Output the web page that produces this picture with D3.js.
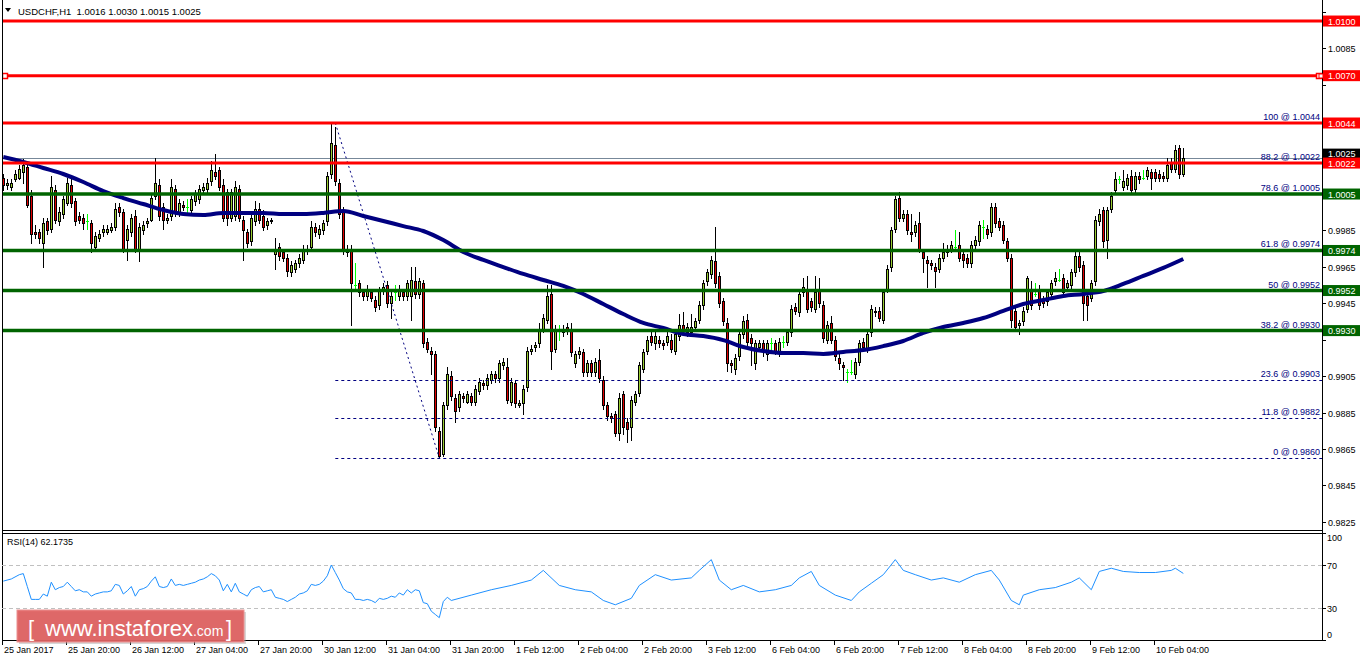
<!DOCTYPE html>
<html><head><meta charset="utf-8">
<script src="https://cdn.jsdelivr.net/npm/d3@7"></script>
<style>
html,body{margin:0;padding:0;background:#fff;}
svg{display:block;font-family:"Liberation Sans",Arial,sans-serif;}
</style></head><body>
<svg id="c" width="1362" height="661"></svg>
<script>
const titleText = "USDCHF,H1  1.0016 1.0030 1.0015 1.0025";
const rsiTitle = "RSI(14) 62.1735";

const opens = [1.0014,1.0010,1.0009,1.0013,1.0014,1.0017,1.0020,1.0004,0.9984,0.9984,
0.9978,0.9990,0.9986,1.0007,0.9990,0.9994,1.0000,1.0010,1.0001,0.9993,
0.9992,0.9990,0.9989,0.9976,0.9981,0.9984,0.9984,0.9985,0.9987,0.9998,
0.9995,0.9980,0.9984,0.9993,0.9975,0.9985,0.9989,0.9991,1.0004,1.0010,
0.9998,0.9991,0.9993,1.0008,0.9995,0.9999,0.9998,0.9996,1.0001,1.0002,
1.0007,1.0008,1.0012,1.0017,1.0018,1.0010,1.0006,0.9992,0.9993,1.0008,
0.9991,0.9984,0.9979,0.9990,0.9997,0.9993,0.9988,0.9991,0.9972,0.9976,
0.9973,0.9970,0.9962,0.9964,0.9967,0.9969,0.9974,0.9976,0.9987,0.9983,
0.9985,0.9990,1.0016,1.0032,1.0011,0.9996,0.9973,0.9975,0.9955,0.9956,
0.9951,0.9949,0.9951,0.9947,0.9944,0.9952,0.9955,0.9945,0.9951,0.9949,
0.9951,0.9949,0.9949,0.9957,0.9950,0.9956,0.9924,0.9919,0.9917,0.9875,
0.9862,0.9889,0.9905,0.9893,0.9888,0.9894,0.9891,0.9894,0.9891,0.9897,
0.9901,0.9900,0.9903,0.9906,0.9904,0.9911,0.9910,0.9891,0.9901,0.9889,
0.9890,0.9899,0.9919,0.9921,0.9923,0.9931,0.9936,0.9950,0.9920,0.9930,
0.9929,0.9932,0.9930,0.9912,0.9917,0.9918,0.9907,0.9912,0.9907,0.9914,
0.9903,0.9889,0.9883,0.9884,0.9874,0.9895,0.9880,0.9877,0.9891,0.9896,
0.9909,0.9919,0.9927,0.9923,0.9925,0.9923,0.9924,0.9925,0.9919,0.9927,
0.9933,0.9929,0.9929,0.9932,0.9936,0.9944,0.9957,0.9961,0.9968,0.9960,
0.9946,0.9934,0.9912,0.9909,0.9916,0.9928,0.9936,0.9926,0.9912,0.9921,
0.9923,0.9917,0.9923,0.9923,0.9918,0.9924,0.9924,0.9929,0.9943,0.9940,
0.9951,0.9953,0.9946,0.9942,0.9953,0.9944,0.9925,0.9934,0.9925,0.9915,
0.9911,0.9907,0.9907,0.9906,0.9913,0.9924,0.9920,0.9929,0.9941,0.9941,
0.9936,0.9953,0.9965,0.9986,1.0003,0.9992,0.9994,0.9984,0.9984,0.9989,
0.9973,0.9969,0.9967,0.9965,0.9964,0.9970,0.9973,0.9975,0.9976,0.9977,
0.9972,0.9970,0.9967,0.9977,0.9979,0.9987,0.9986,0.9984,0.9998,0.9990,
0.9988,0.9979,0.9970,0.9941,0.9933,0.9935,0.9942,0.9953,0.9950,0.9953,
0.9947,0.9946,0.9950,0.9957,0.9958,0.9959,0.9954,0.9955,0.9962,0.9971,
0.9966,0.9949,0.9948,0.9957,0.9990,0.9996,0.9980,0.9997,1.0007,1.0013,
1.0009,1.0010,1.0015,1.0008,1.0015,1.0014,1.0015,1.0017,1.0017,1.0016,
1.0015,1.0014,1.0022,1.0019,1.0030,1.0016];

const highs = [1.0016,1.0013,1.0013,1.0018,1.0021,1.0024,1.0022,1.0007,0.9988,0.9986,
0.9992,0.9992,1.0015,1.0010,0.9998,1.0004,1.0014,1.0013,1.0003,0.9995,
0.9994,0.9994,0.9991,0.9984,0.9985,0.9988,0.9988,0.9989,1.0000,1.0000,
0.9997,0.9988,0.9994,0.9996,0.9989,0.9990,0.9992,1.0005,1.0025,1.0013,
1.0000,0.9994,1.0013,1.0010,1.0002,1.0001,1.0002,1.0004,1.0007,1.0010,
1.0011,1.0014,1.0023,1.0027,1.0020,1.0013,1.0008,1.0008,1.0012,1.0010,
0.9993,0.9986,0.9995,1.0001,1.0000,0.9996,0.9992,0.9992,0.9981,0.9978,
0.9975,0.9972,0.9968,0.9969,0.9972,0.9977,0.9977,0.9990,0.9989,0.9988,
0.9991,1.0017,1.0044,1.0042,1.0013,0.9998,0.9977,0.9977,0.9967,0.9958,
0.9953,0.9955,0.9953,0.9949,0.9954,0.9956,0.9957,0.9951,0.9955,0.9955,
0.9953,0.9958,0.9965,0.9965,0.9959,0.9958,0.9926,0.9921,0.9919,0.9877,
0.9891,0.9910,0.9908,0.9895,0.9897,0.9896,0.9897,0.9896,0.9900,0.9904,
0.9903,0.9906,0.9908,0.9908,0.9914,0.9915,0.9915,0.9904,0.9903,0.9892,
0.9900,0.9921,0.9922,0.9924,0.9934,0.9939,0.9955,0.9955,0.9933,0.9933,
0.9933,0.9934,0.9934,0.9919,0.9921,0.9920,0.9914,0.9914,0.9915,0.9920,
0.9905,0.9891,0.9885,0.9886,0.9896,0.9897,0.9882,0.9894,0.9897,0.9913,
0.9920,0.9927,0.9929,0.9929,0.9927,0.9925,0.9929,0.9928,0.9930,0.9939,
0.9940,0.9934,0.9939,0.9937,0.9946,0.9958,0.9964,0.9971,0.9987,0.9962,
0.9948,0.9937,0.9914,0.9917,0.9930,0.9938,0.9939,0.9928,0.9925,0.9925,
0.9925,0.9925,0.9926,0.9925,0.9926,0.9927,0.9931,0.9944,0.9945,0.9952,
0.9959,0.9960,0.9948,0.9960,0.9959,0.9946,0.9935,0.9938,0.9927,0.9917,
0.9913,0.9909,0.9914,0.9915,0.9925,0.9926,0.9930,0.9944,0.9943,0.9943,
0.9953,0.9966,0.9987,1.0004,1.0006,0.9996,0.9996,0.9994,0.9990,0.9995,
0.9975,0.9971,0.9969,0.9967,0.9972,0.9978,0.9977,0.9979,0.9985,0.9984,
0.9974,0.9972,0.9979,0.9982,0.9990,0.9991,0.9988,1.0000,1.0000,0.9992,
0.9990,0.9981,0.9972,0.9943,0.9936,0.9943,0.9960,0.9957,0.9956,0.9955,
0.9949,0.9953,0.9958,0.9962,0.9964,0.9961,0.9958,0.9964,0.9973,0.9973,
0.9968,0.9951,0.9958,0.9993,0.9997,0.9998,0.9998,1.0006,1.0017,1.0015,
1.0018,1.0016,1.0018,1.0017,1.0017,1.0018,1.0020,1.0019,1.0019,1.0018,
1.0017,1.0025,1.0025,1.0032,1.0032,1.0030];

const lows = [1.0007,1.0008,1.0007,1.0012,1.0013,1.0011,0.9998,0.9978,0.9981,0.9978,
0.9965,0.9983,0.9984,0.9989,0.9988,0.9992,0.9999,0.9998,0.9988,0.9989,
0.9986,0.9986,0.9973,0.9975,0.9979,0.9982,0.9983,0.9984,0.9985,0.9993,
0.9973,0.9969,0.9982,0.9973,0.9968,0.9983,0.9987,0.9990,1.0002,0.9991,
0.9986,0.9989,0.9991,0.9993,0.9993,0.9996,0.9995,0.9994,0.9999,1.0000,
1.0005,1.0006,1.0010,1.0013,1.0007,0.9990,0.9988,0.9990,0.9991,0.9990,
0.9969,0.9976,0.9977,0.9988,0.9989,0.9985,0.9986,0.9989,0.9964,0.9969,
0.9968,0.9960,0.9960,0.9962,0.9965,0.9967,0.9972,0.9974,0.9982,0.9981,
0.9983,0.9988,1.0014,1.0010,0.9992,0.9972,0.9971,0.9933,0.9953,0.9949,
0.9947,0.9947,0.9946,0.9941,0.9942,0.9950,0.9943,0.9937,0.9947,0.9947,
0.9947,0.9947,0.9936,0.9948,0.9948,0.9921,0.9918,0.9906,0.9875,0.9860,
0.9861,0.9887,0.9892,0.9880,0.9886,0.9891,0.9890,0.9889,0.9889,0.9895,
0.9898,0.9898,0.9901,0.9902,0.9902,0.9909,0.9890,0.9889,0.9888,0.9888,
0.9884,0.9897,0.9917,0.9919,0.9921,0.9929,0.9934,0.9909,0.9918,0.9925,
0.9927,0.9928,0.9916,0.9910,0.9915,0.9905,0.9905,0.9905,0.9905,0.9902,
0.9887,0.9881,0.9880,0.9872,0.9870,0.9873,0.9869,0.9870,0.9889,0.9894,
0.9907,0.9917,0.9922,0.9920,0.9921,0.9920,0.9922,0.9918,0.9917,0.9925,
0.9928,0.9927,0.9927,0.9930,0.9934,0.9942,0.9955,0.9959,0.9954,0.9943,
0.9933,0.9908,0.9907,0.9906,0.9914,0.9926,0.9922,0.9911,0.9909,0.9919,
0.9916,0.9914,0.9920,0.9917,0.9916,0.9921,0.9922,0.9927,0.9939,0.9938,
0.9949,0.9940,0.9941,0.9940,0.9943,0.9924,0.9923,0.9923,0.9914,0.9909,
0.9903,0.9902,0.9906,0.9904,0.9911,0.9919,0.9918,0.9927,0.9938,0.9935,
0.9934,0.9951,0.9963,0.9984,0.9990,0.9990,0.9983,0.9979,0.9982,0.9973,
0.9962,0.9954,0.9964,0.9954,0.9962,0.9968,0.9971,0.9973,0.9975,0.9968,
0.9965,0.9965,0.9965,0.9975,0.9977,0.9981,0.9981,0.9982,0.9987,0.9985,
0.9978,0.9968,0.9932,0.9930,0.9928,0.9933,0.9940,0.9942,0.9949,0.9942,
0.9943,0.9944,0.9948,0.9955,0.9957,0.9949,0.9952,0.9953,0.9960,0.9963,
0.9936,0.9936,0.9946,0.9955,0.9988,0.9976,0.9970,0.9995,1.0005,1.0011,
1.0007,1.0008,1.0005,1.0006,1.0011,1.0013,1.0013,1.0008,1.0012,1.0012,
1.0012,1.0012,1.0017,1.0017,1.0014,1.0015];

const closes = [1.0010,1.0011,1.0011,1.0016,1.0019,1.0021,0.9999,0.9983,0.9983,0.9981,
0.9989,0.9985,1.0009,0.9991,0.9995,1.0002,1.0011,1.0000,0.9990,0.9991,
0.9989,0.9990,0.9978,0.9982,0.9983,0.9986,0.9986,0.9987,0.9997,0.9995,
0.9974,0.9986,0.9992,0.9975,0.9987,0.9988,0.9990,1.0003,1.0011,0.9993,
0.9991,0.9992,1.0009,0.9995,1.0000,0.9998,0.9998,1.0002,1.0005,1.0008,
1.0009,1.0011,1.0018,1.0015,1.0009,0.9992,0.9992,1.0006,1.0009,0.9992,
0.9985,0.9978,0.9992,0.9997,0.9991,0.9987,0.9990,0.9990,0.9975,0.9971,
0.9970,0.9963,0.9966,0.9967,0.9970,0.9975,0.9975,0.9987,0.9984,0.9986,
0.9989,1.0015,1.0033,1.0012,0.9994,0.9974,0.9975,0.9956,0.9955,0.9951,
0.9949,0.9953,0.9948,0.9943,0.9952,0.9954,0.9945,0.9949,0.9951,0.9953,
0.9949,0.9956,0.9958,0.9950,0.9957,0.9923,0.9920,0.9917,0.9877,0.9861,
0.9889,0.9906,0.9894,0.9886,0.9895,0.9893,0.9895,0.9891,0.9898,0.9902,
0.9900,0.9904,0.9906,0.9904,0.9912,0.9913,0.9892,0.9902,0.9890,0.9890,
0.9898,0.9919,0.9920,0.9922,0.9931,0.9937,0.9949,0.9919,0.9931,0.9930,
0.9931,0.9930,0.9918,0.9917,0.9919,0.9907,0.9912,0.9907,0.9913,0.9904,
0.9889,0.9883,0.9882,0.9874,0.9893,0.9877,0.9876,0.9892,0.9895,0.9911,
0.9918,0.9925,0.9924,0.9927,0.9923,0.9922,0.9927,0.9920,0.9928,0.9933,
0.9930,0.9932,0.9932,0.9935,0.9944,0.9956,0.9962,0.9969,0.9956,0.9945,
0.9935,0.9912,0.9911,0.9915,0.9928,0.9935,0.9924,0.9923,0.9923,0.9923,
0.9919,0.9923,0.9923,0.9919,0.9924,0.9924,0.9929,0.9942,0.9941,0.9950,
0.9954,0.9942,0.9943,0.9951,0.9945,0.9926,0.9933,0.9925,0.9916,0.9912,
0.9910,0.9907,0.9907,0.9913,0.9923,0.9921,0.9928,0.9942,0.9940,0.9937,
0.9951,0.9964,0.9985,1.0002,0.9992,0.9994,0.9985,0.9983,0.9988,0.9975,
0.9970,0.9967,0.9966,0.9963,0.9970,0.9973,0.9975,0.9977,0.9976,0.9970,
0.9969,0.9967,0.9977,0.9980,0.9988,0.9987,0.9983,0.9998,0.9989,0.9987,
0.9980,0.9970,0.9936,0.9932,0.9934,0.9941,0.9959,0.9944,0.9950,0.9944,
0.9945,0.9951,0.9956,0.9959,0.9958,0.9951,0.9956,0.9962,0.9971,0.9965,
0.9945,0.9944,0.9956,0.9991,0.9994,0.9979,0.9996,1.0004,1.0013,1.0013,
1.0012,1.0014,1.0007,1.0015,1.0013,1.0014,1.0018,1.0014,1.0014,1.0014,
1.0014,1.0021,1.0019,1.0029,1.0016,1.0025];

const maBars = [0,5,10,15,20,25,30,35,40,45,50,55,60,65,70,75,80,85,90,95,100,105,110,115,120,125,130,135,140,145,
150,155,160,165,170,175,180,185,190,195,200,205,210,215,220,225,230,235,240,245,250,255,260,265,270,275,280,285,290,295];
const maValues = [1.00253,1.00226,1.00193,1.00160,1.00116,1.00066,1.00028,0.99995,0.99962,0.99940,
0.99935,0.99946,0.99946,0.99946,0.99940,0.99940,0.99946,0.99957,0.99929,0.99902,
0.99874,0.99847,0.99797,0.99732,0.99688,0.99649,0.99611,0.99578,0.99545,0.99501,
0.99446,0.99391,0.99342,0.99314,0.99281,0.99270,0.99248,0.99210,0.99188,0.99177,
0.99177,0.99172,0.99183,0.99193,0.99215,0.99243,0.99287,0.99320,0.99342,0.99369,
0.99408,0.99446,0.99468,0.99490,0.99501,0.99517,0.99556,0.99600,0.99644,0.99693];

const rsiBars = [0,2,4,5,6,7,8,9,10,11,12,13,14,15,16,17,18,19,20,21,22,23,24,25,26,27,28,29,30,31,
32,33,34,35,36,37,38,39,40,41,42,43,44,45,46,47,48,49,50,51,52,53,54,55,56,57,58,59,60,61,
62,63,64,65,66,67,68,69,70,71,72,73,74,75,76,77,78,79,80,81,82,83,84,85,86,87,88,89,90,91,
92,93,94,95,96,97,98,99,100,101,102,103,104,105,106,107,108,109,110,111,
112,117,122,127,132,135,139,143,147,150,153,157,159,163,167,172,174,177,179,182,185,189,193,197,199,202,204,208,
212,214,217,220,223,225,228,232,235,239,243,247,249,252,254,255,259,263,267,269,272,274,277,280,284,288,292,293,295];
const rsiValues = [55,57,61,62,50,38,38,38,43,41,54,47,49,50,54,50,46,47,45,45,41,43,44,45,45,46,52,51,43,46,
50,41,47,48,50,55,59,50,49,50,57,51,52,51,52,53,54,56,57,59,62,60,56,46,52,45,53,45,43,41,
47,49,50,45,46,47,40,39,38,36,38,40,43,44,46,52,51,52,55,60,70,63,56,48,45,44,38,38,37,38,
37,35,39,38,39,41,40,44,42,47,44,47,46,35,34,27,24,21,36,40,
37,42,47,51,56,65,51,47,45,37,33,39,51,61,56,58,65,75,56,47,51,45,47,51,58,64,51,42,
37,45,53,61,75,65,61,56,58,54,61,65,56,37,33,42,47,49,54,58,47,64,67,64,63,63,65,67,62.17];

const timeLabels = ["25 Jan 2017","25 Jan 20:00","26 Jan 12:00","27 Jan 04:00","27 Jan 20:00","30 Jan 12:00",
"31 Jan 04:00","31 Jan 20:00","1 Feb 12:00","2 Feb 04:00","2 Feb 20:00","3 Feb 12:00","6 Feb 04:00",
"6 Feb 20:00","7 Feb 12:00","8 Feb 04:00","8 Feb 20:00","9 Feb 12:00","10 Feb 04:00"];
const timeLabelBars = [0,16,32,48,64,80,96,112,128,144,160,176,192,208,224,240,256,272,288];

const priceTicks = [0.9825,0.9845,0.9865,0.9885,0.9905,0.9925,0.9945,0.9965,0.9985,1.0005,1.0025,1.0045,1.0065,1.0085,1.0105];
const rsiTicks = [0,30,70,100];
const rsiLevels = [30,70];
const redLevels = [1.0100,1.0070,1.0044,1.0022];
const greenLevels = [1.0005,0.9974,0.9952,0.9930];
const fibPercents = ["0","11.8","23.6","38.2","50","61.8","78.6","88.2","100"];
const fibPrices = [0.9860,0.9882,0.9903,0.9930,0.9952,0.9974,1.0005,1.0022,1.0044];
const fibFromBar = 83, fibToBar = 109;
const currentPrice = 1.0025;
const selectedLevel = 1.0070;

const svg = d3.select("#c");
const plotL = 2, plotR = 1322, mainTop = 3, mainBot = 530, rsiTop = 533, rsiBot = 640;
const x = d3.scaleLinear().domain([0, 295]).range([3.3, 1183.3]);
const y = d3.scaleLinear().domain([0.98205, 1.01099]).range([mainBot, mainTop]);
const yr = d3.scaleLinear().domain([0, 100]).range([640.25, 532.75]);
const fmt = d3.format(".4f");

const defs = svg.append("defs");
defs.append("clipPath").attr("id","cm").append("rect").attr("x",plotL).attr("y",0).attr("width",plotR-plotL).attr("height",mainBot);
defs.append("clipPath").attr("id","cr").append("rect").attr("x",plotL).attr("y",rsiTop).attr("width",plotR-plotL).attr("height",rsiBot-rsiTop);

const gm = svg.append("g").attr("clip-path","url(#cm)");

// current price line
gm.append("line").attr("x1",plotL).attr("x2",plotR).attr("y1",Math.round(y(currentPrice))+0.5).attr("y2",Math.round(y(currentPrice))+0.5)
  .attr("stroke","#778899").attr("stroke-width",1);

// candles
const gc = gm.append("g").attr("shape-rendering","crispEdges");
opens.forEach((o,i)=>{
  const c = closes[i];
  const cx = Math.round(x(i));
  const doji = Math.abs(o-c) < 1e-7;
  const yh = Math.round(y(highs[i])), yl = Math.round(y(lows[i]));
  gc.append("line").attr("x1",cx+0.5).attr("x2",cx+0.5).attr("y1",yh).attr("y2",yl+1)
    .attr("stroke", doji ? "#00ff00" : "#000").attr("stroke-width",1);
  if (doji) {
    const yy = Math.round(y(o))+0.5;
    gc.append("line").attr("x1",cx-1).attr("x2",cx+2).attr("y1",yy).attr("y2",yy).attr("stroke","#00ff00");
  } else {
    const yt = Math.round(y(Math.max(o,c))), yb = Math.round(y(Math.min(o,c)));
    gc.append("rect").attr("x",cx-0.5).attr("y",yt+0.5).attr("width",2).attr("height",Math.max(yb-yt,1))
      .attr("fill", c>o ? "#9acd32" : "#e00000").attr("stroke","#000").attr("stroke-width",1);
  }
});

// moving average
gm.append("path").datum(maBars.map((b,k)=>[b,maValues[k]]))
  .attr("d", d3.line().x(d=>x(d[0])).y(d=>y(d[1])).curve(d3.curveMonotoneX))
  .attr("fill","none").attr("stroke","#000080").attr("stroke-width",4);

// fibonacci
const fx0 = x(fibFromBar);
fibPrices.forEach((p,k)=>{
  const yy = Math.round(y(p))+0.5;
  gm.append("line").attr("x1",fx0).attr("x2",plotR).attr("y1",yy).attr("y2",yy)
    .attr("stroke","#000080").attr("stroke-width",1).attr("stroke-dasharray","3,3");
});
gm.append("line").attr("x1",x(fibFromBar)).attr("y1",y(fibPrices[8])).attr("x2",x(fibToBar)).attr("y2",y(fibPrices[0]))
  .attr("stroke","#000080").attr("stroke-width",1).attr("stroke-dasharray","2,3");

// horizontal levels
redLevels.forEach(p=>{
  gm.append("line").attr("x1",plotL).attr("x2",plotR).attr("y1",y(p)).attr("y2",y(p)).attr("stroke","#ff0000").attr("stroke-width",3);
});
greenLevels.forEach(p=>{
  gm.append("line").attr("x1",plotL).attr("x2",plotR).attr("y1",y(p)).attr("y2",y(p)).attr("stroke","#006400").attr("stroke-width",3.5);
});
// selected object anchors
[5, plotR-3].forEach(ax=>{
  gm.append("rect").attr("x",ax-2.5).attr("y",Math.round(y(selectedLevel))-2.5).attr("width",5).attr("height",5)
    .attr("fill","#fff").attr("stroke","#ff0000").attr("stroke-width",1.5);
});

// fib labels
fibPrices.forEach((p,k)=>{
  svg.append("text").attr("x",1320).attr("y",y(p)-3).attr("text-anchor","end")
    .attr("font-size",9).attr("fill","#000080").text(fibPercents[k]+" @ "+fmt(p));
});

// frame lines
const fr = svg.append("g").attr("shape-rendering","crispEdges").attr("stroke","#000").attr("stroke-width",1);
fr.append("line").attr("x1",plotR+0.5).attr("x2",plotR+0.5).attr("y1",0).attr("y2",rsiBot+1);
fr.append("line").attr("x1",plotL+0.5).attr("x2",plotL+0.5).attr("y1",0).attr("y2",rsiBot+1);
fr.append("line").attr("x1",plotL).attr("x2",plotR+1).attr("y1",mainBot+0.5).attr("y2",mainBot+0.5);
fr.append("line").attr("x1",plotL).attr("x2",plotR+1).attr("y1",rsiTop+0.5).attr("y2",rsiTop+0.5);
fr.append("line").attr("x1",plotL).attr("x2",plotR+1).attr("y1",rsiBot+0.5).attr("y2",rsiBot+0.5);

// price axis (ticks hidden under level boxes are skipped)
const boxed = [currentPrice].concat(redLevels, greenLevels);
priceTicks.forEach(p=>{
  const yy = Math.round(y(p))+0.5;
  fr.append("line").attr("x1",plotR).attr("x2",plotR+4).attr("y1",yy).attr("y2",yy);
  const hidden = boxed.some(b=>Math.abs(y(b)-y(p))<11);
  if (!hidden) svg.append("text").attr("x",1328).attr("y",yy+3.5).attr("font-size",9).attr("fill","#000").text(fmt(p));
});

// current price black label (partly covered by the 1.0022 box)
{
  const yy = y(currentPrice);
  svg.append("rect").attr("x",plotR+1).attr("y",yy-9).attr("width",37).attr("height",11).attr("fill","#000");
  svg.append("text").attr("x",1328).attr("y",yy-0.5).attr("font-size",9).attr("fill","#fff").text(fmt(currentPrice));
}
function levelBox(p, fill, label){
  const yy = y(p);
  svg.append("rect").attr("x",plotR+1).attr("y",yy-5.5).attr("width",37).attr("height",11).attr("fill",fill);
  svg.append("text").attr("x",1328).attr("y",yy+3.5).attr("font-size",9).attr("fill","#fff").text(label);
}
redLevels.forEach(p=>levelBox(p,"#ff0000",fmt(p)));
greenLevels.forEach(p=>levelBox(p,"#006400",fmt(p)));
svg.append("rect").attr("x",plotR-3).attr("y",Math.round(y(selectedLevel))-2).attr("width",4).attr("height",4)
  .attr("fill","#fff").attr("stroke","#ff0000");

// RSI panel
const gr = svg.append("g").attr("clip-path","url(#cr)");
rsiLevels.forEach(v=>{
  gr.append("line").attr("x1",plotL).attr("x2",plotR).attr("y1",Math.round(yr(v))+0.5).attr("y2",Math.round(yr(v))+0.5)
    .attr("stroke","#c0c0c0").attr("stroke-dasharray","4,3").attr("shape-rendering","crispEdges");
});
gr.append("path").datum(rsiBars.map((b,k)=>[b,rsiValues[k]]))
  .attr("d", d3.line().x(d=>x(d[0])).y(d=>yr(d[1])))
  .attr("fill","none").attr("stroke","#1e90ff").attr("stroke-width",1);
rsiTicks.forEach(v=>{
  const yy = Math.round(yr(v))+0.5;
  fr.append("line").attr("x1",plotR).attr("x2",plotR+4).attr("y1",yy).attr("y2",yy);
  const ty = v===100 ? yy+7 : (v===0 ? yy-3 : yy+3.5);
  svg.append("text").attr("x",1327).attr("y",ty).attr("font-size",9).attr("fill","#000").text(v);
});
svg.append("text").attr("x",7).attr("y",545).attr("font-size",9).attr("fill","#000").text(rsiTitle);

// time axis
timeLabelBars.forEach((b,k)=>{
  const tx = Math.round(x(b))-0.5;
  fr.append("line").attr("x1",tx).attr("x2",tx).attr("y1",rsiBot).attr("y2",rsiBot+5);
  svg.append("text").attr("x",tx+1.5).attr("y",653).attr("font-size",9).attr("fill","#000").text(timeLabels[k]);
});

// title
svg.append("path").attr("d","M5,8 L11,8 L8,12 Z").attr("fill","#000");
svg.append("text").attr("x",18).attr("y",15).attr("font-size",9.5).attr("fill","#000").style("white-space","pre").text(titleText);

// watermark
const wm = svg.append("g");
wm.append("rect").attr("x",19).attr("y",612).attr("width",227).attr("height",32).attr("fill","#999").attr("opacity",0.4);
wm.append("rect").attr("x",17).attr("y",610).attr("width",227).attr("height",32).attr("fill","#df5f5f").attr("opacity",0.92)
  .attr("stroke","#eb8a8a").attr("stroke-width",1);
const wt = wm.append("text").attr("y",636).attr("fill","#fff").attr("font-family","Liberation Sans, Arial, sans-serif");
wt.append("tspan").attr("x",28).attr("font-size",22).text("[");
wt.append("tspan").attr("x",45).attr("font-size",22).text("www.instaforex");
wt.append("tspan").attr("font-size",14).text(".com");
wt.append("tspan").attr("x",226).attr("font-size",22).text("]");
</script>
</body></html>
